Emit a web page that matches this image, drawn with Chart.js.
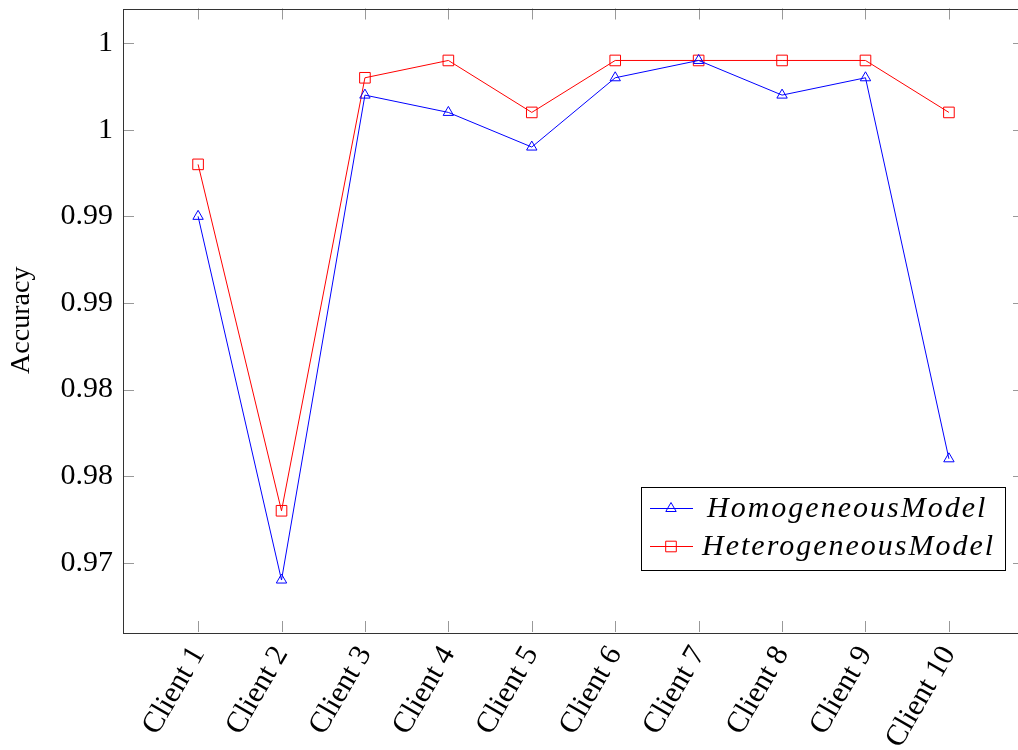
<!DOCTYPE html>
<html>
<head>
<meta charset="utf-8">
<script src="https://cdn.jsdelivr.net/npm/chart.js@4/dist/chart.umd.min.js"></script>
<style>
  html, body { margin: 0; padding: 0; background: #fff; overflow: hidden; }
  canvas { display: block; }
</style>
</head>
<body>
<canvas id="c" width="1040" height="750"></canvas>
<script>
const categories = ['Client 1', 'Client 2', 'Client 3', 'Client 4', 'Client 5',
                    'Client 6', 'Client 7', 'Client 8', 'Client 9', 'Client 10'];
const homogeneous   = [0.990, 0.969, 0.997, 0.996, 0.994, 0.998, 0.999, 0.997, 0.998, 0.976];
const heterogeneous = [0.993, 0.973, 0.998, 0.999, 0.996, 0.999, 0.999, 0.999, 0.999, 0.996];
const yTickValues = [0.970, 0.975, 0.980, 0.985, 0.990, 0.995, 1.000];
const yTickLabels = ['0.97', '0.98', '0.98', '0.99', '0.99', '1', '1'];
const seriesNames = ['HomogeneousModel', 'HeterogeneousModel'];

const SERIF = '"Liberation Serif", "DejaVu Serif", serif';

function toPoints(values) {
  return values.map((v, i) => ({ x: i + 1, y: v }));
}

// Box frame with inward ticks on all four sides
const framePlugin = {
  id: 'frame',
  afterDatasetsDraw(chart) {
    const { ctx, chartArea: a } = chart;
    const xs = chart.scales.x, ys = chart.scales.y;
    const tl = 11;
    ctx.save();
    ctx.lineWidth = 1;
    ctx.strokeStyle = '#999';
    ctx.beginPath();
    xs.ticks.forEach(t => {
      const px = Math.round(xs.getPixelForValue(t.value)) + 0.5;
      ctx.moveTo(px, a.bottom); ctx.lineTo(px, a.bottom - tl);
      ctx.moveTo(px, a.top); ctx.lineTo(px, a.top + tl);
    });
    ys.ticks.forEach(t => {
      const py = Math.round(ys.getPixelForValue(t.value)) + 0.5;
      ctx.moveTo(a.left, py); ctx.lineTo(a.left + tl, py);
      ctx.moveTo(a.right, py); ctx.lineTo(a.right - tl, py);
    });
    ctx.stroke();
    ctx.strokeStyle = '#333';
    ctx.strokeRect(Math.round(a.left) + 0.5, Math.round(a.top) + 0.5,
                   Math.round(a.right - a.left), Math.round(a.bottom - a.top));
    ctx.restore();
  }
};

// Legend box drawn inside the plot, lower right
const insideLegend = {
  id: 'insideLegend',
  afterDraw(chart) {
    const { ctx, chartArea: a } = chart;
    const boxW = 364, boxH = 83;
    const x0 = a.right - 19 - boxW, y0 = a.bottom - 62 - boxH;
    ctx.save();
    ctx.fillStyle = '#fff';
    ctx.fillRect(x0, y0, boxW, boxH);
    ctx.strokeStyle = '#000';
    ctx.lineWidth = 1;
    ctx.strokeRect(Math.round(x0) + 0.5, Math.round(y0) + 0.5, boxW, boxH);
    chart.data.datasets.forEach((ds, i) => {
      const cy = Math.round(y0 + 21 + i * 38) + 0.5;
      ctx.strokeStyle = ds.borderColor;
      ctx.lineWidth = 1;
      ctx.beginPath();
      ctx.moveTo(x0 + 9, cy); ctx.lineTo(x0 + 52, cy);
      ctx.stroke();
      const mx = x0 + 30;
      ctx.beginPath();
      if (ds.pointStyle === 'triangle') {
        const r = ds.pointRadius;
        ctx.moveTo(mx, cy - r);
        ctx.lineTo(mx + r * Math.sin(Math.PI / 3), cy + r / 2);
        ctx.lineTo(mx - r * Math.sin(Math.PI / 3), cy + r / 2);
        ctx.closePath();
      } else {
        const h = ds.pointRadius * Math.SQRT1_2;
        ctx.rect(mx - h, cy - h, 2 * h, 2 * h);
      }
      ctx.stroke();
      ctx.fillStyle = '#000';
      ctx.font = 'italic 30px ' + SERIF;
      ctx.letterSpacing = '2px';
      ctx.textAlign = 'left';
      ctx.textBaseline = 'middle';
      ctx.fillText(ds.label, x0 + 66 - i * 5, cy + 1);
    });
    ctx.restore();
  }
};

new Chart(document.getElementById('c'), {
  type: 'line',
  data: {
    datasets: [
      {
        label: seriesNames[0],
        data: toPoints(homogeneous),
        borderColor: '#0000ff',
        backgroundColor: 'rgba(0,0,0,0)',
        borderWidth: 1,
        pointStyle: 'triangle',
        pointRadius: 6,
        pointBorderWidth: 1,
        tension: 0
      },
      {
        label: seriesNames[1],
        data: toPoints(heterogeneous),
        borderColor: '#ff0000',
        backgroundColor: 'rgba(0,0,0,0)',
        borderWidth: 1,
        pointStyle: 'rect',
        pointRadius: 7.5,
        pointBorderWidth: 1,
        tension: 0
      }
    ]
  },
  options: {
    responsive: false,
    devicePixelRatio: 1,
    animation: false,
    layout: { padding: { top: 8, right: 16, left: 0, bottom: 0 } },
    plugins: {
      legend: { display: false },
      tooltip: { enabled: false }
    },
    scales: {
      x: {
        type: 'linear',
        min: 0.1,
        max: 10.9,
        afterBuildTicks(scale) {
          scale.ticks = categories.map((c, i) => ({ value: i + 1 }));
        },
        afterFit(scale) {
          scale.height = 118;
          scale.paddingLeft = 0; scale.paddingRight = 0;
          scale.paddingTop = 0; scale.paddingBottom = 0;
        },
        grid: { display: false, drawTicks: false },
        border: { display: false },
        ticks: {
          autoSkip: false,
          minRotation: 60,
          maxRotation: 60,
          padding: 8,
          color: '#000',
          font: { family: SERIF, size: 30 },
          callback: (v, i) => categories[i]
        }
      },
      y: {
        type: 'linear',
        min: 0.966,
        max: 1.002,
        afterBuildTicks(scale) {
          scale.ticks = yTickValues.map(v => ({ value: v }));
        },
        afterFit(scale) {
          scale.width = 123;
          scale.paddingLeft = 0; scale.paddingRight = 0;
          scale.paddingTop = 0; scale.paddingBottom = 0;
        },
        grid: { display: false, drawTicks: false },
        border: { display: false },
        ticks: {
          padding: 10,
          color: '#000',
          font: { family: SERIF, size: 30 },
          callback: (v, i) => yTickLabels[i]
        },
        title: {
          display: true,
          text: 'Accuracy',
          color: '#000',
          font: { family: SERIF, size: 28 },
          padding: { top: 5, bottom: 0 }
        }
      }
    }
  },
  plugins: [framePlugin, insideLegend]
});
</script>
</body>
</html>
